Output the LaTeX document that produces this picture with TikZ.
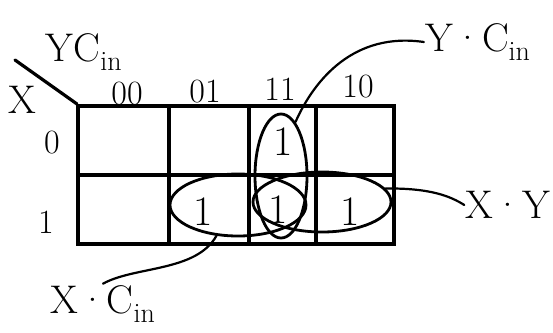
\documentclass[tikz,border=0pt]{standalone}
\usepackage{fontspec}
\usetikzlibrary{shapes.geometric}

\begin{document}
\begin{tikzpicture}[x=1pt,y=-1pt,line width=3.2pt,line cap=round,
 big/.style={font=\fontsize{40}{40}\selectfont,inner sep=0pt},
 dig/.style={font=\fontsize{34}{34}\selectfont,inner sep=0pt},
 one/.style={font=\fontsize{42}{42}\selectfont,inner sep=0pt},
 grp/.style={draw,ellipse,line width=2.8pt,inner sep=0pt},
 lead/.style={line width=2.2pt}]
\useasboundingbox(0,0)rectangle(553,332);
% map
\draw(78,106)rectangle(394,244);\draw(78,175)--(394,175);
\draw(169,106)--(169,244);\draw(249,106)--(249,244);\draw(316,106)--(316,244);
\draw(15,60)--(77,104);
\node[big](yc)at(84,52){YC\textsubscript{in}};\node[big](x)at(22,100){X};
\node[dig](c00)at(127,94){00};\node[dig](c01)at(205,92){01};
\node[dig](c11)at(280,89){11};\node[dig](c10)at(358,87){10};
\node[dig](r0)at(52,143){0};\node[dig](r1)at(46,222){1};
\node[one](m11a)at(283,142){1};\node[one](m01b)at(203,212){1};
\node[one](m11b)at(278,210){1};\node[one](m10b)at(350,212){1};
% groups
\node[grp,minimum width=136,minimum height=62](gxc)at(238,205){};
\node[grp,minimum width=138,minimum height=60](gxy)at(322,202){};
\node[grp,minimum width=52,minimum height=124](gyc)at(281,176){};
\node[big](lyc)at(478,42){Y·C\textsubscript{in}};
\node[big](lxy)at(508,205){X·Y};
\node[big](lxc)at(103,304){X·C\textsubscript{in}};
\draw[lead](gyc.75)..controls(315,78)and(355,32)..(lyc.west);
\draw[lead](gxy.12)..controls(430,188)and(450,196)..(lxy.west);
\draw[lead](gxc.235)..controls(196,272)and(135,266)..(lxc.north);
\end{tikzpicture}
\end{document}
